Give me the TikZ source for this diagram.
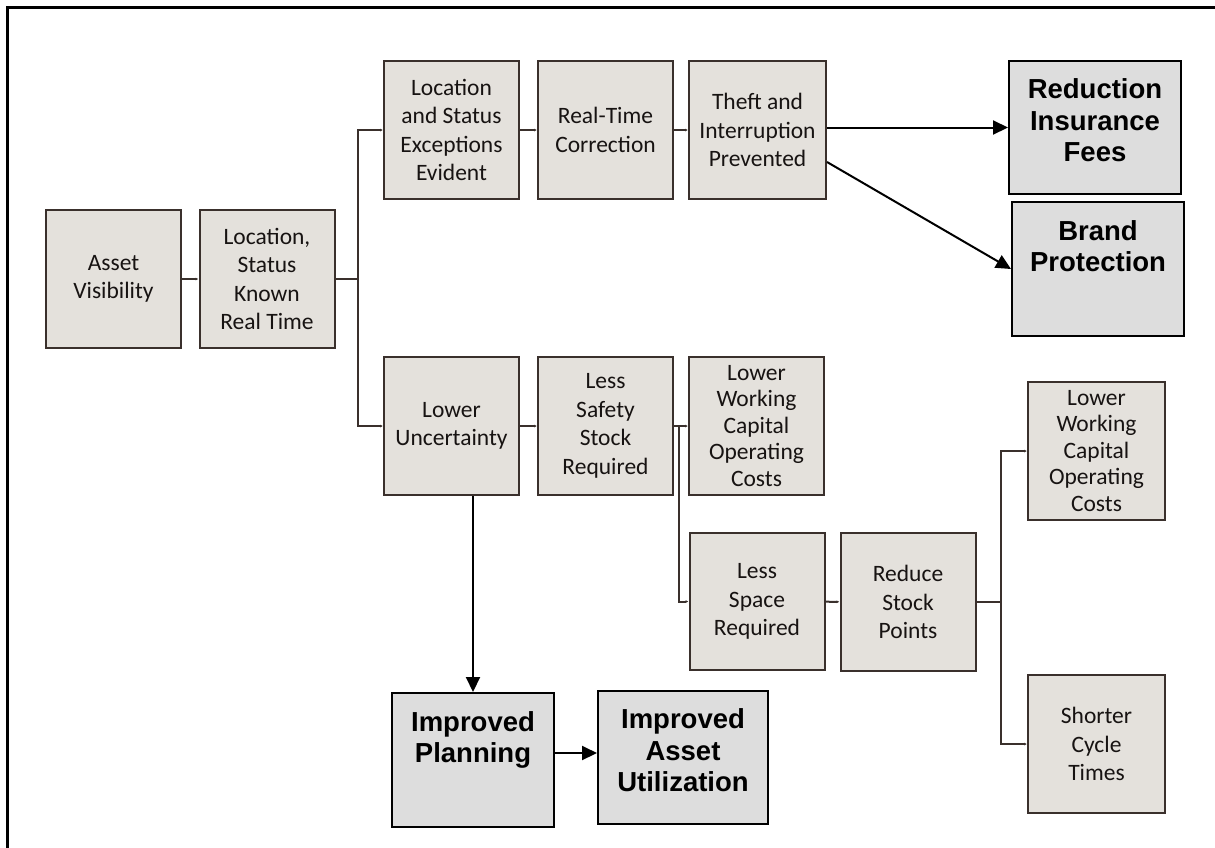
\documentclass[tikz,border=0pt]{standalone}
\usepackage{fontspec}
\setmainfont{Carlito}
\newfontfamily\arialfont{Liberation Sans}
\usetikzlibrary{arrows.meta}
\definecolor{boxfill}{HTML}{E4E1DC}
\definecolor{boxline}{HTML}{3A302C}
\definecolor{resultfill}{HTML}{DDDDDD}
\tikzset{>=stealth,
  stepbox/.style={draw=boxline, fill=boxfill, line width=2pt, text=boxline!40!black,
    minimum width=135pt, minimum height=138pt, inner sep=0pt, align=center,
    font=\fontsize{23.5}{28.5}\selectfont},
  resultbox/.style={draw=black, fill=resultfill, line width=2pt, minimum width=172pt,
    minimum height=133pt, inner sep=0pt, align=center,
    font=\arialfont\bfseries\fontsize{27.5}{31.5}\selectfont},
  link/.style={draw=boxline, line width=2pt, -{Latex[length=3pt,width=3pt]}},
  bigarrow/.style={draw=black, line width=2pt, -{Triangle[length=15pt,width=14pt]}}
}

\begin{document}
\begin{tikzpicture}[x=1pt, y=-1pt]
    \useasboundingbox (0,0) rectangle (1215,847);
    \draw[line width=3pt] (7,848) -- (7,7) -- (1216,7);

    % top chain
    \node[stepbox] (asset) at (113.5,279) {Asset\\Visibility};
    \node[stepbox] (loc) at (267,279) {Location,\\Status\\Known\\Real Time};
    \node[stepbox] (exc) at (451.5,130) {Location\\and Status\\Exceptions\\Evident};
    \node[stepbox] (rt) at (605.5,130) {Real-Time\\Correction};
    \node[stepbox, minimum width=137pt] (theft) at (757.5,130) {Theft and\\Interruption\\Prevented};
    \node[resultbox] (red) at (1095,127.5) {Reduction\\Insurance\\Fees\\[-17pt]~};
    \node[resultbox, minimum height=134pt] (brand) at (1098,269) {Brand\\Protection\\[14pt]~};

    % lower chain
    \node[stepbox] (unc) at (451.5,426) {Lower\\Uncertainty};
    \node[stepbox] (safe) at (605.5,426) {Less\\Safety\\Stock\\Required};
    \node[stepbox, font=\fontsize{23.5}{26.5}\selectfont] (lwc1) at (756.5,426) {Lower\\Working\\Capital\\Operating\\Costs};
    \node[stepbox, minimum height=137pt] (space) at (757,601.5) {Less\\Space\\Required};
    \node[stepbox] (reduce) at (908,602) {Reduce\\Stock\\Points};
    \node[stepbox, minimum width=137pt, font=\fontsize{23.5}{26.5}\selectfont] (lwc2) at (1096.5,451) {Lower\\Working\\Capital\\Operating\\Costs};
    \node[stepbox, minimum width=137pt] (short) at (1096.5,744) {Shorter\\Cycle\\Times};
    \node[resultbox, minimum width=162pt, minimum height=134pt] (plan) at (473,760) {Improved\\Planning\\[14pt]~};
    \node[resultbox, minimum width=170pt] (util) at (683,757.5) {Improved\\Asset\\Utilization\\[-17pt]~};

    % connectors
    \draw[link] (asset) -- (loc);
    \draw[link] (loc.east) -- ++(22,0) |- (exc.west);
    \draw[link] (loc.east) -- ++(22,0) |- (unc.west);
    \draw[link] (exc) -- (rt);
    \draw[link] (rt) -- (theft);
    \draw[bigarrow] (theft.east |- red.west) -- (red.west);
    \draw[bigarrow] ([yshift=-32pt]theft.east) -- (brand.west);

    \draw[link] (unc) -- (safe);
    \draw[link] (safe) -- (lwc1);
    \draw[link] (safe.east) -- ++(5,0) |- (space.west);
    \draw[link] (space) -- (reduce);
    \draw[link] (reduce.east) -- ++(24,0) |- (lwc2.west);
    \draw[link] (reduce.east) -- ++(24,0) |- (short.west);

    \draw[bigarrow] (unc.south -| plan.north) -- (plan.north);
    \coordinate (planout) at ([yshift=7pt]plan.east);
    \draw[bigarrow] (planout) -- (planout -| util.west);
\end{tikzpicture}
\end{document}
